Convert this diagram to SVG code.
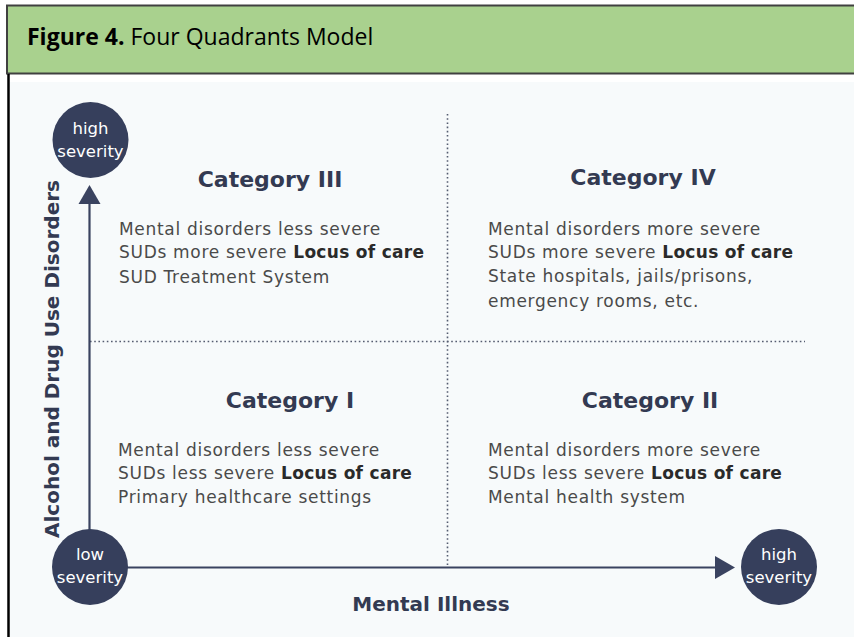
<svg xmlns="http://www.w3.org/2000/svg" width="854" height="637" viewBox="0 0 854 637">
<defs>
<style>
.hdr{font-family:"Open Sans","Liberation Sans",sans-serif;font-size:23px;fill:#000}
.cat{font-family:"DejaVu Sans","Liberation Sans",sans-serif;font-weight:bold;font-size:22px;fill:#333a52;text-anchor:middle}
.body{font-family:"DejaVu Sans","Liberation Sans",sans-serif;font-size:17px;letter-spacing:0.7px;fill:#4a4a4a}
.b{font-weight:bold;fill:#2a2a2a;letter-spacing:0.3px}
.axis{font-family:"DejaVu Sans","Liberation Sans",sans-serif;font-weight:bold;font-size:20px;fill:#333a52;text-anchor:middle}
.node{fill:#363f5c}
.nt{font-family:"DejaVu Sans","Liberation Sans",sans-serif;font-size:16.5px;fill:#ffffff;text-anchor:middle}
.ax{stroke:#3a4360;stroke-width:2.2;fill:none}
.dot{stroke:#555c70;stroke-width:1.6;stroke-dasharray:1.6 2.6;fill:none}
</style>
</defs>
<rect x="0" y="0" width="854" height="637" fill="#ffffff"/>
<rect x="10" y="82" width="844" height="555" fill="#f7fafb"/>
<g id="header">
<rect x="7" y="5.5" width="850" height="68" fill="#a9d18e" stroke="#404040" stroke-width="2"/>
<text class="hdr" x="27" y="45"><tspan font-weight="bold">Figure 4.</tspan> Four Quadrants Model</text>
</g>
<line x1="8.5" y1="74" x2="8.5" y2="637" stroke="#000" stroke-width="2.5"/>
<g id="connectors">
<line class="dot" x1="90" y1="341.5" x2="805" y2="341.5"/>
<line class="dot" x1="447.5" y1="114" x2="447.5" y2="566"/>
<line class="ax" x1="89.5" y1="203" x2="89.5" y2="530"/>
<polygon points="78.5,204 89.5,185 100.5,204" fill="#3a4360"/>
<line class="ax" x1="126" y1="567.5" x2="716" y2="567.5"/>
<polygon points="715,556 735,567.5 715,579" fill="#3a4360"/>
</g>
<g id="high-y">
<circle class="node" cx="90.5" cy="140" r="38"/>
<text class="nt" x="90.5" y="134">high</text>
<text class="nt" x="90.5" y="157">severity</text>
</g>
<g id="low">
<circle class="node" cx="90" cy="567" r="38"/>
<text class="nt" x="90" y="560">low</text>
<text class="nt" x="90" y="583">severity</text>
</g>
<g id="high-x">
<circle class="node" cx="779" cy="567" r="38"/>
<text class="nt" x="779" y="560">high</text>
<text class="nt" x="779" y="583">severity</text>
</g>
<g id="y-label">
<text class="axis" transform="translate(59,359) rotate(-90)">Alcohol and Drug Use Disorders</text>
</g>
<g id="x-label">
<text class="axis" x="431" y="611">Mental Illness</text>
</g>
<g id="cat3">
<text class="cat" x="270" y="187">Category III</text>
<text class="body" x="119" y="235">Mental disorders less severe</text>
<text class="body" x="119" y="258">SUDs more severe <tspan class="b">Locus of care</tspan></text>
<text class="body" x="119" y="283">SUD Treatment System</text>
</g>
<g id="cat4">
<text class="cat" x="643" y="185">Category IV</text>
<text class="body" x="488" y="235">Mental disorders more severe</text>
<text class="body" x="488" y="258">SUDs more severe <tspan class="b">Locus of care</tspan></text>
<text class="body" x="488" y="282">State hospitals, jails/prisons,</text>
<text class="body" x="488" y="307">emergency rooms, etc.</text>
</g>
<g id="cat1">
<text class="cat" x="290" y="408">Category I</text>
<text class="body" x="118" y="456">Mental disorders less severe</text>
<text class="body" x="118" y="479">SUDs less severe <tspan class="b">Locus of care</tspan></text>
<text class="body" x="118" y="503">Primary healthcare settings</text>
</g>
<g id="cat2">
<text class="cat" x="650" y="408">Category II</text>
<text class="body" x="488" y="456">Mental disorders more severe</text>
<text class="body" x="488" y="479">SUDs less severe <tspan class="b">Locus of care</tspan></text>
<text class="body" x="488" y="503">Mental health system</text>
</g>
</svg>
